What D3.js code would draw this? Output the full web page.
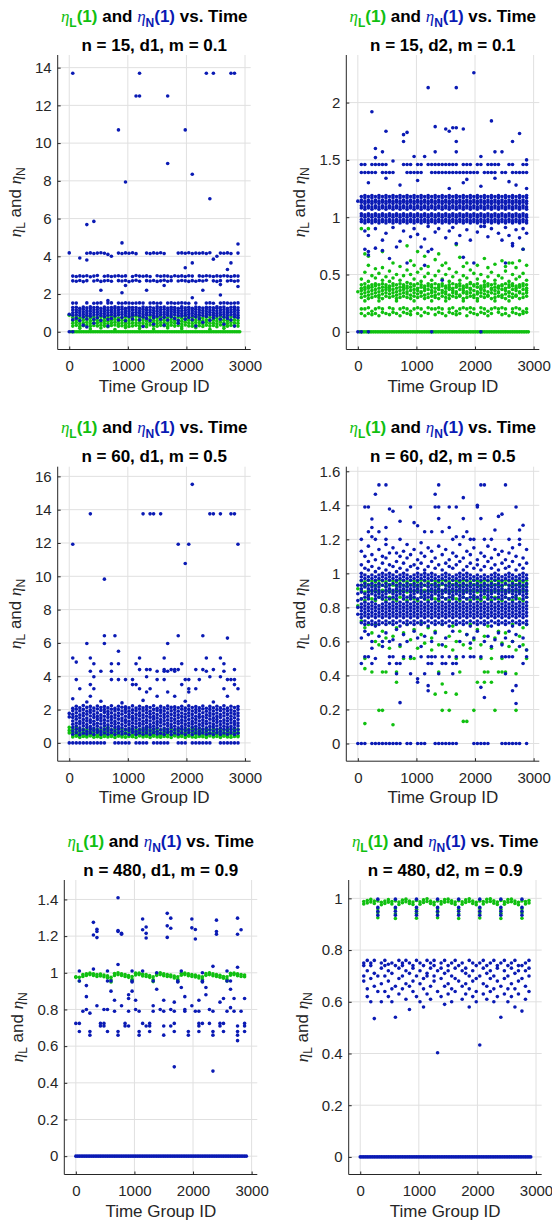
<!DOCTYPE html>
<html>
<head>
<meta charset="utf-8">
<script src="https://cdn.jsdelivr.net/npm/d3@7"></script>
<style>
  body { margin: 0; background: #fff; }
  svg { display: block; }
  text { font-family: "Liberation Sans", Arial, sans-serif; white-space: pre; }
</style>
</head>
<body>
<div class="chart"></div>
<script>
// time group columns (x) and the in-between ids used where a series sits on 0 without gaps
const timeCols = [0,60,120,180,240,300,360,420,480,540,600,660,720,780,840,900,960,1020,1080,1140,1200,1260,1320,1380,1440,1500,1560,1620,1680,1740,1800,1860,1920,1980,2040,2100,2160,2220,2280,2340,2400,2460,2520,2580,2640,2700,2760,2820,2880];
const timeMid = [30,90,150,210,270,330,390,450,510,570,630,690,750,810,870,930,990,1050,1110,1170,1230,1290,1350,1410,1470,1530,1590,1650,1710,1770,1830,1890,1950,2010,2070,2130,2190,2250,2310,2370,2430,2490,2550,2610,2670,2730,2790,2850,2910];

const xTicks = [0,1000,2000,3000];
const yTicks1 = [0,2,4,6,8,10,12,14];
const yTicks2 = [0,0.5,1,1.5,2];
const yTicks3 = [0,2,4,6,8,10,12,14,16];
const yTicks4 = [0,0.2,0.4,0.6,0.8,1,1.2,1.4,1.6];
const yTicks5 = [0,0.2,0.4,0.6,0.8,1,1.2,1.4];
const yTicks6 = [0,0.2,0.4,0.6,0.8,1];

const nVals = [15,15,60,60,480,480];
const dVals = ["d1","d2","d1","d2","d1","d2"];
const mVals = ["0.1","0.1","0.5","0.5","0.9","0.9"];

// each series: one array of eta values per time column
// n = 15, d1, m = 0.1
const p1L = [
[.88],[0,.3,.45,.6,.76],[0,.34,.49,.63,.79],[0,.28,.43,.57,.72,.18],[0,.32,.47,.62,.77],
[0,.36,.5,.65,.81],[0,.29,.44,.58,.73,.15],[0,.33,.48,.62,.78],[0,.31,.46,.6,.75],[0,.35,.5,.64,.8,.2],
[0,.3,.44,.59,.74],[0,.27,.42,.56,.71,.83],[0,.33,.47,.61,.77],[0,.36,.51,.66,.8,.12],[0,.29,.43,.58,.73],
[0,.32,.46,.61,.76],[0,.35,.49,.63,.79,.22],[0,.28,.44,.59,.74],[0,.31,.47,.62,.78],[0,.34,.48,.64,.82],
[0,.3,.45,.6,.75,.17],[0,.33,.48,.63,.77],[0,.27,.42,.57,.72],[0,.36,.5,.65,.81],[0,.31,.46,.6,.76,.14],
[0,.29,.44,.58,.73],[0,.34,.49,.64,.8],[0,.32,.47,.61,.76],[0,.28,.43,.58,.74,.2],[0,.35,.5,.65,.8],
[0,.3,.45,.59,.74],[0,.33,.48,.62,.78],[0,.27,.41,.56,.71,.16],[0,.36,.51,.66,.82],[0,.31,.46,.61,.76],
[0,.29,.44,.59,.75],[0,.34,.49,.63,.79,.21],[0,.32,.46,.6,.75],[0,.28,.43,.58,.73],[0,.35,.5,.64,.8],
[0,.3,.45,.6,.76,.13],[0,.33,.47,.62,.78],[0,.27,.42,.57,.72],[0,.36,.51,.65,.81],[0,.31,.46,.61,.77,.18],
[0,.29,.44,.59,.74],[0,.34,.49,.63,.79],[0,.32,.47,.62,.77],[0,.3,.45,.6,.75]
];
const p1N = [
[0,.93,4.18],
[0,.64,.88,1.01,1.15,1.28,1.52,2.7,2.95,13.7],
[.72,.9,1.04,1.17,1.3,1.52,2.68,2.93],
[.6,.86,.99,1.12,1.25,2.72,2.96,3.91],
[.35,.78,.92,1.06,1.19,1.31,2.66,2.94],
[.25,.68,.87,1,1.13,1.27,1.53,2.71,2.97,3.8,4.16,5.68],
[.82,.95,1.09,1.22,1.32,2.92,4.18],
[.45,.66,.89,1.02,1.16,1.29,1.51,2.69,2.95,4.15,5.85],
[.74,.91,1.05,1.18,1.3,1.52,2.73,2.98,4.17],
[.6,.86,.98,1.11,1.24,1.53,2.2,2.67,4.19],
[.8,.94,1.07,1.2,1.31,2.7,2.94,4.16],
[.3,.65,.88,1.01,1.14,1.27,1.52,1.65,2.72,2.96,4.1],
[.7,.9,1.03,1.17,1.29,1.53,2.68,2.93,4],
[.84,.97,1.1,1.23,1.32,2.95],
[.62,.89,1.02,1.15,1.28,1.52,2.71,2.97,4.17,10.7],
[.76,.92,1.05,1.19,1.31,1.51,2.07,2.69,2.94,4.71,4.15],
[.58,.86,.99,1.12,1.25,1.53,2.45,2.72,2.96,4.18,7.94],
[.81,.94,1.08,1.21,1.3,1.52,2.66,4.16],
[.68,.88,1.01,1.15,1.28,1.51,2.7,2.93,4.19],
[.9,1.03,1.17,1.29,1.52,2.73,2.98,4.14,12.5],
[.63,.85,.98,1.11,1.24,1.53,2.68,2.95,12.5,13.7],
[.28,.78,.92,1.06,1.19,1.31,1.52,2.94],
[.7,.87,1,1.14,1.27,2.2,2.71,2.96,4.17],
[.6,.9,1.04,1.17,1.3,1.52,2.69,2.93,4.15],
[.4,.74,.86,.99,1.13,1.26,1.53,2.72,4.18],
[.82,.95,1.09,1.22,1.32,1.51,2.67,2.97,4.16],
[.66,.89,1.02,1.15,1.28,1.52,2.7,2.94,4.19],
[.35,.77,.92,1.05,1.19,1.31,2.45,2.73,2.96,4.15],
[.62,.87,1,1.13,1.26,1.52,2.68,2.95,8.92,12.5],
[.8,.94,1.07,1.2,1.3,1.53,2.71,2.92],
[.7,.9,1.03,1.16,1.29,1.51,2.97],
[.45,.6,.86,.99,1.12,1.25,1.52,2.69,2.94,4.17],
[.83,.96,1.1,1.23,1.32,1.53,2.72,2.96,4.18],
[.67,.88,1.01,1.14,1.27,1.52,2.7,2.93,3.39,4.16,10.7],
[.76,.91,1.05,1.18,1.3,1.51,2.67,2.97,4.19],
[.64,.85,.98,1.12,1.25,1.8,2.71,2.95,3.65,4.15,8.35],
[.3,.79,.93,1.06,1.2,1.31,1.52,2.68,4.17],
[.69,.88,1.02,1.15,1.28,2.72,2.96,4.16],
[.5,.86,.99,1.13,1.26,2.2,2.69,2.94,4.18],
[.81,.94,1.07,1.21,1.3,1.52,2.73,2.97,4.15,13.7],
[.61,.9,1.03,1.16,1.29,1.53,2.95,4.19,7.05],
[.73,.87,1,1.14,1.27,1.51,2.7,2.93,3.85,13.7],
[.84,.97,1.1,1.24,1.32,2.67,2.96,4],
[.66,.89,1.02,1.15,1.28,1.52,1.95,2.5,2.71,2.94,4.17],
[.4,.78,.92,1.05,1.18,1.31,1.53,2.97,4.16],
[.7,.86,.99,1.12,1.25,1.52,2.69,2.95,3.3,4.18],
[.62,.9,1.04,1.17,1.3,1.51,2.72,2.93,3.65,4.15,13.7],
[.3,.8,.93,1.07,1.2,1.31,1.52,2.68,2.96,13.7],
[.74,.88,1.01,1.14,1.27,1.53,2.4,2.7,2.95,4.17,4.65]
];

// n = 15, d2, m = 0.1
const p2L = [
[.35],
[0,.3,.33,.36,.38,.41,.2,.16,.46,.9],
[0,.31,.34,.37,.39,.42,.27,.2,.14,.52,.68],
[0,.29,.32,.35,.38,.4,.21,.16,.44,.58,.9,.66],
[0,.3,.33,.36,.39,.41,.18,.15,.49],
[0,.31,.34,.37,.4,.42,.2,.16,.47,.55],
[0,.3,.32,.35,.38,.41,.27,.21,.14,.51],
[0,.29,.33,.36,.39,.42,.2,.17,.45,.56,.7],
[0,.31,.34,.37,.39,.41,.16,.48],
[0,.3,.33,.36,.38,.4,.21,.15,.53,.44],
[0,.31,.34,.37,.4,.42,.2,.17,.47,.6],
[0,.29,.32,.35,.38,.41,.27,.16,.5],
[0,.3,.33,.36,.39,.42,.2,.14,.45,.57],
[0,.31,.34,.37,.39,.41,.21,.17,.49],
[0,.3,.33,.35,.38,.4,.2,.16,.43,.54,.75],
[0,.29,.32,.36,.39,.42,.18,.15,.5,.62],
[0,.31,.34,.37,.4,.41,.27,.2,.46,.58],
[0,.3,.33,.36,.38,.42,.21,.16,.52,.7],
[0,.31,.34,.35,.39,.41,.2,.14,.44,.55],
[0,.29,.32,.36,.38,.4,.17,.48,.66],
[0,.3,.33,.37,.4,.42,.21,.16,.51,.57],
[0,.31,.34,.36,.39,.41,.27,.2,.45],
[0,.3,.32,.35,.38,.42,.2,.15,.49,.63],
[0,.29,.33,.37,.39,.41,.21,.17,.53,.68],
[0,.31,.34,.36,.4,.42,.2,.16,.46,.58],
[0,.3,.33,.35,.38,.4,.27,.14,.5,.6],
[0,.29,.32,.37,.39,.41,.2,.17,.44,.55],
[0,.31,.34,.36,.38,.42,.21,.16,.48],
[0,.3,.33,.35,.39,.41,.18,.15,.52,.76],
[0,.31,.32,.37,.4,.42,.2,.16,.45,.65],
[0,.29,.34,.36,.38,.4,.27,.21,.49,.57],
[0,.3,.33,.35,.39,.41,.2,.14,.47,.6],
[0,.31,.34,.37,.38,.42,.21,.17,.43,.54],
[0,.3,.32,.36,.4,.41,.2,.16,.51],
[0,.29,.33,.35,.39,.42,.27,.15,.46,.58],
[0,.31,.34,.37,.38,.4,.21,.17,.5],
[0,.3,.33,.36,.39,.41,.2,.16,.44,.64],
[0,.31,.32,.35,.4,.42,.18,.14,.48,.56],
[0,.29,.34,.37,.38,.41,.2,.16,.52],
[0,.3,.33,.36,.39,.42,.27,.21,.45,.59],
[0,.31,.34,.35,.38,.4,.2,.17,.49],
[0,.3,.32,.37,.4,.41,.21,.15,.47,.62],
[0,.29,.33,.36,.38,.42,.2,.16,.53,.57],
[0,.31,.34,.35,.39,.41,.27,.14,.44,.6],
[0,.3,.33,.37,.4,.42,.2,.17,.5,.6],
[0,.31,.32,.36,.38,.4,.21,.16,.46,.56],
[0,.29,.34,.35,.39,.41,.2,.15,.48,.62],
[0,.3,.33,.37,.4,.42,.18,.16,.51,.72],
[0,.31,.34,.36,.38,.41,.2,.17,.45,.58]
];
const p2N = [
[0,1.14],
[0,.96,.98,1.01,1.03,1.08,1.1,1.13,1.15,1.18,1.39,1.46],
[.72,.88,.95,.97,1,1.02,1.07,1.09,1.12,1.14,1.17,1.19,1.39,1.46],
[0,.7,.67,.84,.96,.98,1.01,1.03,1.08,1.1,1.13,1.15,1.18,1.3,1.39],
[.95,.97,1,1.02,1.07,1.09,1.12,1.14,1.17,1.19,1.39,1.46,1.92],
[.73,.9,.96,.98,1.01,1.03,1.08,1.1,1.13,1.15,1.18,1.39,1.46,1.52,1.6],
[.95,.97,1,1.02,1.07,1.09,1.12,1.14,1.17,1.19,1.46],
[.71,.8,.96,.98,1.01,1.03,1.08,1.1,1.13,1.15,1.18,1.39,1.46,1.57],
[.86,.95,.97,1,1.02,1.07,1.09,1.12,1.14,1.17,1.19,1.34,1.39,1.46,1.75],
[.64,.96,.98,1.01,1.03,1.08,1.1,1.13,1.15,1.18,1.39],
[.91,.95,.97,1,1.02,1.07,1.09,1.12,1.14,1.17,1.19,1.39,1.49],
[.74,.96,.98,1.01,1.03,1.08,1.1,1.13,1.15,1.18],
[.79,.95,.97,1,1.02,1.07,1.09,1.12,1.14,1.17,1.19,1.28],
[.88,.96,.98,1.01,1.03,1.08,1.1,1.13,1.15,1.18,1.46,1.66,1.72],
[.6,.95,.97,1,1.02,1.07,1.09,1.12,1.14,1.17,1.19,1.39,1.46,1.74],
[.83,.96,.98,1.01,1.03,1.08,1.1,1.13,1.15,1.18,1.39,1.46],
[.9,.95,.97,1,1.02,1.07,1.09,1.12,1.14,1.17,1.19,1.39,1.53],
[.85,.96,.98,1.01,1.03,1.08,1.1,1.13,1.15,1.18,1.32,1.39,1.46],
[.74,.95,.97,1,1.02,1.07,1.09,1.12,1.14,1.17,1.19,1.39,1.46],
[.58,.81,.96,.98,1.01,1.03,1.08,1.1,1.13,1.15,1.18,1.53],
[.7,.92,.95,.97,1,1.02,1.07,1.09,1.12,1.14,1.17,1.19,1.46,2.13],
[0,.72,.96,.98,1.01,1.03,1.08,1.1,1.13,1.15,1.18,1.39,1.46],
[.87,.95,.97,1,1.02,1.07,1.09,1.12,1.14,1.17,1.19,1.39,1.46,1.57,1.79],
[.9,.96,.98,1.01,1.03,1.08,1.1,1.13,1.15,1.18,1.39,1.46],
[.45,.95,.97,1,1.02,1.07,1.09,1.12,1.14,1.17,1.19,1.39,1.46],
[.82,.96,.98,1.01,1.03,1.08,1.1,1.13,1.15,1.18,1.39,1.46,1.77],
[.88,.95,.97,1,1.02,1.07,1.09,1.12,1.14,1.17,1.19,1.25,1.39,1.46,1.75],
[.91,.96,.98,1.01,1.03,1.08,1.1,1.13,1.15,1.18,1.39,1.46,1.78],
[.77,.95,.97,1,1.02,1.07,1.09,1.12,1.14,1.17,1.19,1.39,1.46,1.57,1.66,1.78,2.13],
[.84,.96,.98,1.01,1.03,1.08,1.1,1.13,1.15,1.18,1.39],
[.65,.95,.97,1,1.02,1.07,1.09,1.12,1.14,1.17,1.19,1.3,1.39,1.46,1.77],
[.89,.96,.98,1.01,1.03,1.08,1.1,1.13,1.15,1.18,1.33,1.39,1.46],
[.8,.95,.97,1,1.02,1.07,1.09,1.12,1.14,1.17,1.19,1.39,1.46],
[.6,.96,.98,1.01,1.03,1.08,1.1,1.13,1.15,1.18,1.39,2.26],
[.87,.95,.97,1,1.02,1.07,1.09,1.12,1.14,1.17,1.19,1.39,1.46],
[0,.92,.96,.98,1.01,1.03,1.08,1.1,1.13,1.15,1.18,1.27,1.46,1.53],
[.92,.95,.97,1,1.02,1.07,1.09,1.12,1.14,1.17,1.19,1.39],
[.83,.96,.98,1.01,1.03,1.08,1.1,1.13,1.15,1.18,1.39,1.46],
[.9,.95,.97,1,1.02,1.07,1.09,1.12,1.14,1.17,1.19,1.39,1.46,1.84],
[.96,.98,1.01,1.03,1.08,1.1,1.13,1.15,1.18,1.34,1.39,1.46,1.57],
[.86,.95,.97,1,1.02,1.07,1.09,1.12,1.14,1.17,1.19,1.46],
[.8,.96,.98,1.01,1.03,1.08,1.1,1.13,1.15,1.18,1.39,1.57],
[.6,.91,.95,.97,1,1.02,1.07,1.09,1.12,1.14,1.17,1.19,1.39],
[.84,.96,.98,1.01,1.03,1.08,1.1,1.13,1.15,1.18,1.31,1.46],
[.77,.75,.95,.97,1,1.02,1.07,1.09,1.12,1.14,1.17,1.19,1.39,1.46,1.66],
[.89,.96,.98,1.01,1.03,1.08,1.1,1.13,1.15,1.18,1.28,1.39],
[.82,.95,.97,1,1.02,1.07,1.09,1.12,1.14,1.17,1.19,1.39,1.73],
[.72,.9,.96,.98,1.01,1.03,1.08,1.1,1.13,1.15,1.18,1.39,1.46],
[.86,.95,.97,1,1.02,1.07,1.09,1.12,1.14,1.17,1.19,1.25,1.39,1.46,1.5]
];

// n = 60, d1, m = 0.5
const p3L = [
[.6,.75,.93],[.35,.47,.63,.8],[.4,.5,.66,.83,.95],[.33,.45,.6,.78],[.38,.49,.64,.81],
[.36,.44,.61,.79],[.41,.52,.67,.85],[.34,.46,.62,.8],[.37,.48,.65,.82],[.32,.44,.6,.77],
[.39,.51,.66,.84],[.35,.47,.63,.8,.92],[.38,.45,.61,.79],[.33,.5,.64,.82],[.4,.48,.62,.81],
[.36,.46,.65,.83],[.34,.52,.6,.78],[.39,.47,.63,.8],[.37,.45,.66,.84],[.32,.49,.61,.79],
[.41,.5,.64,.82],[.35,.44,.62,.8],[.38,.48,.65,.83,.93],[.33,.46,.6,.78],[.4,.51,.63,.81],
[.36,.47,.67,.85],[.34,.45,.61,.79],[.39,.49,.64,.82],[.37,.52,.62,.8],[.32,.46,.66,.84],
[.41,.48,.6,.77],[.35,.44,.65,.83],[.38,.5,.63,.81],[.33,.47,.61,.79],[.4,.45,.64,.82],
[.36,.49,.62,.8,.91],[.34,.51,.66,.84],[.39,.46,.6,.78],[.37,.48,.63,.81],[.32,.44,.65,.83],
[.41,.5,.61,.79],[.35,.47,.64,.82],[.38,.52,.62,.8],[.33,.45,.67,.85],[.4,.49,.6,.77],
[.36,.46,.63,.81],[.34,.5,.65,.83],[.39,.48,.61,.79],[.37,.44,.64,.82]
];
const p3N = [
[0,1.56,1.77],
[0,.52,.71,.93,1.12,1.31,1.52,1.71,1.93,2.08,2.65,5.1,11.92],
[0,.61,.82,1.01,1.19,1.42,1.6,1.81,2.02,2.2,3.8,4.85],
[0,.49,.72,.9,1.13,1.29,1.51,1.69,1.92,2.11,3.25],
[0,.58,.79,1.02,1.21,1.4,1.62,1.79,2.01,2.24],
[0,.53,.7,.92,1.1,1.32,1.49,1.72,1.9,2.13,2.45,5.97],
[0,.6,.81,.99,1.22,1.38,1.61,1.82,1.99,2.19,2.8,3.5,4.3,5.1,13.75],
[0,.51,.73,.89,1.11,1.3,1.53,1.7,1.91,2.09,3.25,3.97,4.75],
[0,.62,.78,1,1.18,1.41,1.59,1.8,2.03,2.21],
[0,.5,.69,.91,1.13,1.33,1.5,1.68,1.94,2.12,2.5,4.3],
[0,.59,.8,1.02,1.2,1.39,1.6,1.83,2,2.18,6.43,5.97,9.83],
[.52,.72,.9,1.09,1.31,1.52,1.71,1.89,2.1],
[.61,.79,1.01,1.21,1.4,1.58,1.8,2.02,2.23,3.8,4.3,4.75],
[0,.5,.71,.93,1.12,1.29,1.51,1.69,1.92,2.07,6.43],
[0,.6,.82,.98,1.19,1.42,1.61,1.79,2,2.2,3.8,4.75,5.5],
[0,.53,.7,.91,1.1,1.32,1.49,1.72,1.91,2.14,2.4],
[0,.58,.8,1.01,1.22,1.39,1.6,1.82,2.01,2.17,3.8],
[0,.5,.73,.89,1.11,1.3,1.52,1.7,1.9,2.1],
[.62,.81,1,1.2,1.41,1.59,1.81,1.99,2.22,3.5,3.8],
[0,.51,.7,.92,1.13,1.31,1.5,1.71,1.93,2.09,3.5,4.75],
[0,.59,.79,1.02,1.19,1.4,1.62,1.8,2.02,2.2,3.25,4.4,5.1],
[0,.52,.72,.9,1.12,1.3,1.51,1.69,1.92,2.11,2.55,13.75],
[0,.6,.8,.99,1.21,1.38,1.6,1.81,2,2.18,3.05,3.97,4.4],
[.5,.71,.93,1.1,1.31,1.53,1.72,1.9,2.12,3.25,4.4,13.75],
[0,.61,.82,1,1.2,1.42,1.59,1.79,2.01,2.23,13.75],
[0,.53,.7,.91,1.11,1.29,1.5,1.7,1.93,2.08,2.8,3.8,4.3],
[0,.58,.79,1.01,1.22,1.4,1.61,1.82,1.99,2.19,13.75],
[0,.51,.72,.89,1.12,1.32,1.52,1.71,1.91,2.1,3.8,4.3,4.4,5.1],
[0,.62,.81,1.02,1.19,1.39,1.6,1.8,2.03,2.21,3.05,4.3,5.97],
[.5,.7,.92,1.1,1.31,1.49,1.7,1.92,2.13,4.4],
[.59,.8,1,1.21,1.41,1.62,1.81,2,2.17,2.8,4.3,4.4],
[0,.52,.71,.9,1.13,1.3,1.51,1.69,1.9,2.11,4.4,6.43,11.92],
[0,.6,.82,.99,1.2,1.38,1.59,1.79,2.02,2.2,3.5,4.75],
[0,.51,.73,.91,1.11,1.32,1.52,1.72,1.93,2.09,2.5,3.8,10.77],
[.61,.78,1.01,1.19,1.4,1.61,1.8,2.01,2.22,3.05,3.25,3.8,11.92],
[0,.5,.71,.92,1.12,1.29,1.5,1.71,1.91,2.12,15.52],
[0,.59,.8,1,1.21,1.41,1.6,1.82,2,2.18,3.25,4.4],
[0,.53,.7,.9,1.1,1.31,1.53,1.7,1.92,2.1,3.8],
[0,.6,.81,1.02,1.2,1.39,1.58,1.81,2.03,2.21,4.4,6.43],
[0,.52,.72,.91,1.13,1.3,1.51,1.69,1.9,2.08,4.3,5.1],
[0,.58,.79,.99,1.19,1.42,1.62,1.8,2.01,2.19,3.97,13.75],
[.5,.71,.93,1.11,1.32,1.5,1.72,1.91,2.11,2.45,4.4,13.75],
[.61,.8,1.01,1.22,1.4,1.59,1.79,2,2.2],
[0,.51,.7,.9,1.1,1.3,1.52,1.7,1.93,2.1,3.97,5.1,13.75],
[0,.59,.82,1,1.2,1.38,1.61,1.81,2.02,2.23,3.25,4.3,4.75],
[0,.52,.73,.92,1.12,1.31,1.49,1.71,1.92,2.09,2.8,3.8,6.29],
[0,.6,.8,.99,1.21,1.41,1.6,1.8,1.99,2.2,3.8,13.75],
[0,.5,.71,.91,1.11,1.29,1.51,1.72,1.9,2.12,3.5,3.8,4.4,13.75],
[0,.58,.79,1.02,1.19,1.4,1.62,1.79,2.01,2.18,3.25,11.92]
];

// n = 60, d2, m = 0.5
const p4L = [
[.81,.91],[.85,.9,.93,.955,.72],[.84,.89,.925,.95,.117,.44,.5,.68],[.86,.9,.935,.96,.7],[.85,.895,.93,.955,.42,.65],
[.84,.9,.925,.95,.7,.6],[.86,.89,.935,.96,.195,.58],[.85,.9,.93,.955,.195,.42,.66],[.84,.895,.925,.95,.42,.62],[.86,.9,.935,.96,.56,.71],
[.85,.89,.93,.955,.11,.63],[.84,.9,.925,.95,.36,.42,.68],[.86,.895,.935,.96,.57],[.85,.9,.93,.955,.5,.65],[.84,.89,.925,.95,.7],
[.86,.9,.935,.96,.5,.61],[.85,.895,.93,.955,.5,.67],[.84,.9,.925,.95,.56],[.86,.89,.935,.96,.64,.71],[.85,.9,.93,.955,.59],
[.84,.895,.925,.95,.68],[.86,.9,.935,.96,.55,.62],[.85,.89,.93,.955,.29,.66],[.84,.9,.925,.95,.42,.58],[.86,.895,.935,.96,.195,.35,.7],
[.85,.9,.93,.955,.3,.57],[.84,.89,.925,.95,.195,.63],[.86,.9,.935,.96,.55,.69],[.85,.895,.93,.955,.29,.5,.6],[.84,.9,.925,.95,.42,.66],
[.86,.89,.935,.96,.13,.58],[.85,.9,.93,.955,.13,.64],[.84,.895,.925,.95,.56,.7],[.86,.9,.935,.96,.195,.61],[.85,.89,.93,.955,.36,.67],
[.84,.9,.925,.95,.5,.58],[.86,.895,.935,.96,.36,.42,.63],[.85,.9,.93,.955,.42,.69],[.84,.89,.925,.95,.36,.5,.56],[.86,.9,.935,.96,.195,.62],
[.85,.895,.93,.955,.42,.66],[.84,.9,.925,.95,.42,.5,.59],[.86,.89,.935,.96,.42,.65],[.85,.9,.93,.955,.57],[.84,.895,.925,.95,.6,.7],
[.86,.9,.935,.96,.195,.41,.55],[.85,.89,.93,.955,.63],[.84,.9,.925,.95,.58,.68],[.86,.895,.935,.96,.5,.55,.7]
];
const p4N = [
[0,.76,.8,.84,.88,.93],
[0,.71,.74,.76,.78,.8,.82,.85,.89,.91,.93,.96,.98,1,1.05,1.13,1.2,.47,.62],
[0,.7,.72,.75,.77,.79,.81,.83,.86,.88,.92,.94,.97,.99,1.03,1.1,1.39,.51,.66],
[.71,.74,.76,.78,.8,.82,.85,.87,.89,.91,.93,.96,.98,1.02,1.07,1.16,1.245,1.39,.51,.64],
[0,.7,.72,.75,.77,.79,.81,.83,.88,.9,.92,.94,.97,.99,1.04,1.11,1.215,1.27,1.32,.47,.6,.56],
[0,.69,.71,.74,.76,.78,.8,.82,.85,.87,.89,.91,.93,.96,.98,1.01,1.08,1.2,1.465,.5],
[0,.7,.72,.75,.77,.79,.81,.86,.88,.9,.92,.94,.97,.99,1.03,1.14,1.245,1.52,.63],
[0,.71,.74,.76,.78,.8,.82,.85,.87,.89,.93,.96,.98,1,1.06,1.1,.6,.57],
[0,.7,.72,.75,.77,.79,.81,.83,.86,.88,.9,.92,.94,.97,.99,1.02,1.09,1.17,1.2,1.27,1.52,.65],
[0,.71,.74,.76,.78,.8,.82,.85,.89,.91,.93,.96,.98,1,1.05,1.12,1.378,.51,.47,.6],
[0,.7,.72,.75,.77,.79,.81,.83,.86,.88,.9,.94,.97,.99,1.04,1.15,1.365,.51,.61],
[0,.71,.74,.76,.78,.8,.82,.85,.87,.89,.91,.93,.96,.98,1.01,1.07,1.12,.47,.41,.67],
[0,.69,.72,.75,.77,.79,.81,.83,.88,.9,.92,.94,.97,.99,1.03,1.1,1.2,1.306,.47,.24,.58],
[.71,.74,.76,.78,.8,.82,.85,.87,.89,.91,.93,.96,.98,1,1.06,1.13,.51,.64],
[0,.7,.72,.75,.77,.79,.81,.83,.86,.9,.92,.94,.97,.99,1.02,1.09,1.17,.6],
[0,.71,.74,.76,.78,.8,.82,.85,.87,.89,.91,.93,.96,.98,1.04,1.11,1.39,.51,.41],
[.7,.72,.75,.77,.79,.81,.83,.86,.88,.9,.92,.94,.97,.99,1.05,1.14,1.298,.66],
[0,.71,.74,.76,.78,.8,.82,.85,.89,.91,.93,.96,.98,1,1.03,1.08,1.28,.38,.36,.62],
[0,.7,.72,.75,.77,.79,.81,.83,.86,.88,.9,.92,.94,.97,.99,1.06,1.12,1.18,.51,.57],
[0,.71,.74,.76,.78,.8,.82,.85,.87,.89,.93,.96,.98,1,1.02,1.1,1.245,.41,.63],
[.69,.72,.75,.77,.79,.81,.83,.86,.88,.9,.92,.94,.97,.99,1.04,1.15,.51,.47,.34,.31],
[.71,.74,.76,.78,.8,.82,.85,.87,.89,.91,.93,.96,.98,1,1.07,1.13,1.245,.51,.47,.6],
[0,.7,.72,.75,.77,.79,.81,.83,.88,.9,.92,.94,.97,.99,1.03,1.09,1.39,1.465,.51,.65],
[0,.71,.74,.76,.78,.8,.82,.85,.87,.89,.91,.93,.96,.98,1.05,1.16,1.322,1.39,1.52,.41],
[0,.7,.72,.75,.77,.79,.81,.83,.86,.88,.9,.94,.97,.99,1.02,1.11,1.245,.51,.47,.58],
[0,.71,.74,.76,.78,.8,.82,.85,.89,.91,.93,.96,.98,1,1.06,1.14,.47,.62],
[0,.69,.72,.75,.77,.79,.81,.83,.86,.88,.9,.92,.94,.97,.99,1.04,1.08,1.27,1.39,.51],
[0,.71,.74,.76,.78,.8,.82,.85,.87,.89,.91,.93,.96,.98,1.03,1.12,1.2,.47,.41,.66],
[0,.7,.72,.75,.77,.79,.81,.83,.88,.9,.92,.94,.97,.99,1.05,1.1,1.215,1.39,.51,.47],
[.71,.74,.76,.78,.8,.82,.85,.87,.89,.91,.93,.96,.98,1,1.07,1.17,.6],
[.7,.72,.75,.77,.79,.81,.83,.86,.88,.9,.92,.94,.97,.99,1.02,1.09,1.215,1.322,1.445,.51],
[.71,.74,.76,.78,.8,.82,.85,.89,.91,.93,.96,.98,1,1.04,1.13,1.245,.64],
[.69,.72,.75,.77,.79,.81,.83,.86,.88,.9,.92,.94,.97,.99,1.06,1.11,1.2,.51,.59],
[0,.71,.74,.76,.78,.8,.82,.85,.87,.89,.91,.93,.96,.98,1.03,1.15,1.2,.51,.62],
[0,.7,.72,.75,.77,.79,.81,.83,.86,.9,.92,.94,.97,.99,1.05,1.08,1.39,1.4,.66],
[0,.71,.74,.76,.78,.8,.82,.85,.87,.89,.91,.93,.96,.98,1.02,1.12,1.322,1.52,.51,.33],
[0,.7,.72,.75,.77,.79,.81,.83,.88,.9,.92,.94,.97,.99,1.04,1.1,1.2,1.52,.27,.6],
[0,.71,.74,.76,.78,.8,.82,.85,.87,.89,.91,.93,.96,.98,1.07,1.16,.63],
[.69,.72,.75,.77,.79,.81,.83,.86,.88,.9,.92,.94,.97,.99,1.03,1.09,1.2,.57],
[.71,.74,.76,.78,.8,.82,.85,.89,.91,.93,.96,.98,1,1.05,1.14,1.255,.61],
[.7,.72,.75,.77,.79,.81,.83,.86,.88,.9,.92,.94,.97,.99,1.02,1.11,1.335,.65],
[0,.71,.74,.76,.78,.8,.82,.85,.87,.89,.91,.93,.96,.98,1.06,1.13,1.348,.51,.58],
[0,.7,.72,.75,.77,.79,.81,.83,.86,.88,.9,.94,.97,.99,1.03,1.08,1.52,.51,.41,.62],
[0,.71,.74,.76,.78,.8,.82,.85,.89,.91,.93,.96,.98,1,1.04,1.12,1.2,.51,.66],
[0,.69,.72,.75,.77,.79,.81,.83,.86,.88,.9,.92,.94,.97,.99,1.07,1.15,.51,.31,.6],
[0,.71,.74,.76,.78,.8,.82,.85,.87,.89,.91,.93,.96,.98,1.02,1.1,1.39,.34,.235,.64],
[0,.7,.72,.75,.77,.79,.81,.83,.88,.9,.92,.94,.97,.99,1.05,1.17,1.2,1.255,.57],
[.71,.74,.76,.78,.8,.82,.85,.87,.89,.91,.93,.96,.98,1,1.03,1.09,1.283,.47,.62],
[0,.7,.72,.75,.77,.79,.81,.83,.86,.88,.9,.92,.94,.97,.99,1.06,1.14,.51,.55]
];

// n = 480, d1, m = 0.9
const p5L = [
[.975,.978],[.955,.975],[.98,.99],[.985,.995],[.99,.998],[.985,.995],[.98,.99],[.983,.993],[.978,.988],[.972,.984],
[.95,.962,.975],[.985,.996],[.99,1],[.985,.995],[.98,.99],[.975,.985],[.955,.965,.98],[.988,.998],[.99,.998],[.983,.993],
[.98,.99],[.975,.985],[.952,.963,.978],[.986,.996],[.99,1],[.984,.994],[.98,.99],[.978,.988],[.972,.982],[.953,.965,.978],
[.987,.997],[.99,.998],[.984,.994],[.98,.99],[.977,.987],[.972,.982],[.953,.964,.978],[.986,.996],[.99,1],[.984,.994],
[.98,.99],[.976,.986],[.97,.98],[.955,.965,.978],[.987,.997],[.99,.998],[.984,.994],[.98,.99],[.978,.988]
];
const p5N = [
[0,.724],[0,1.01,.955,.68,.724],[0,.79],[0,.93,.87,.8],[0,.68,.66,.78],
[0,1.02,1.275,1.206],[0,1.237,1.225,1.192,.82],[0,.724,.71],[0,.724,.71,.8],[0,1.01,.955,.8,.68],
[0,.955,.9],[0,.85,.79],[0,1.045,1.409,1.225,1.23,.68,.66],[0,1.215,1.21,.82],[0,.724,.71],
[0,.88,.86,.71,.79],[0,1.01,.955,.95,.9],[0,.85,.8],[0,.79,.68,.66],[0,1.01,1.293,1.235,.724],
[0,1.25,1.215,1.19,.71],[0,.724,.71,.68],[0,.955,.79,.82],[0,1,.91],[0,.8],
[0,.85,.79,.71,.66],[0,1.324,1.256,1.193],[0,1.298,1.243,.71,.8],[0,.84,.79,.724,.68,.487],[0,.955,.95],
[0,1.01,.92],[0,.87,.79,.8],[0,.68,.66],[0,1.293,1.245,.82],[0,1.236,1.184,.79],
[0,.85,.79,.724,.71,.68],[0,1,.955,.95,.724],[0,.92,.88],[0,.724,.8],[0,1.035,.79,.68,.66,.464],
[0,1.287,1.225,1.21],[0,.84,.724,.71],[0,.86,.724,.68],[0,1.01,.955,.79],[0,.955,.91,.81],
[0,.86,.79],[0,1.03,1.298,1.21,.71,.68,.66,.63],[0,1.235,.79],[0,.86,.724,.71,.68]
];

// n = 480, d2, m = 0.9
const p6L = [
[],[.978,.988],[.982,.992],[.986,.996],[.98,.99],[.99,.96,.945,.925],[.975,.985],[.98,.99],[.985,.995],[.978,.988],
[.99,.96,.94,.922],[.976,.986],[.983,.993],[.987,.997],[.98,.99],[.976,.986],[.992,.958,.942,.923],[.977,.987],[.984,.994],[.988,.998],
[.98,.99],[.975,.985],[.99,.96,.945,.925],[.978,.988],[.985,.995],[.987,.997],[.981,.991],[.976,.986],[.991,.958,.94,.922],[.977,.987],
[.984,.994],[.988,.998],[.98,.99],[.975,.985],[.99,.96,.943,.924],[.978,.988],[.986,.996],[.988,.998],[.981,.991],[.976,.986],
[.992,.958,.942,.922],[.977,.987],[.985,.995],[.987,.997],[.98,.99],[.975,.985],[.99,.96,.944,.923],[.978,.988],[.982,.992]
];
const p6N = [
[0],[0,.7,.68,.74,.75],[0,.76,.72,.65,.62],[0,.74,.69,.6,.75],[0,.535,.71,.66,.76],
[0,.997,.965,.95,.935,.7,.64],[0,.75,.73,.67,.6],[0,.76,.74,.7,.64],[0,.72,.68,.745,.62],[0,.75,.71,.65,.6],
[0,.997,.965,.95,.935,.54,.74,.66],[0,.76,.73,.69,.63],[0,.74,.7,.75,.65],[0,.72,.67,.61,.76],[0,.75,.71,.57,.66],
[0,.74,.73,.68,.64],[0,.997,.965,.95,.935,.76,.7,.62],[0,.75,.72,.67,.6],[0,.58,.74,.69,.65],[0,.76,.71,.7,.63],
[0,.75,.73,.66,.61],[0,.74,.7,.68,.76],[0,.997,.965,.95,.935,.403,.72,.64],[0,.75,.73,.69,.62],[0,.59,.76,.71,.66],
[0,.74,.72,.67,.63],[0,.75,.7,.65,.6],[0,.76,.73,.69,.64],[0,.997,.965,.95,.935,.74,.68],[0,.75,.72,.66,.61],
[0,.73,.71,.67,.63],[0,.58,.76,.7,.65],[0,.75,.72,.68,.62],[0,.74,.69,.64,.6],[0,.997,.965,.95,.935,.433,.75,.7],
[0,.76,.73,.67,.63],[0,.74,.71,.66,.61],[0,.75,.72,.69,.64],[0,.6,.76,.7,.65],[0,.74,.73,.68,.62],
[0,.997,.965,.95,.935,.54,.75,.66],[0,.76,.72,.69,.63],[0,.74,.7,.65,.6],[0,.75,.73,.67,.62],[0,.58,.76,.71,.65],
[0,.74,.72,.68,.63],[0,.997,.965,.95,.935,.564,.74,.69],[0,.75,.72,.66,.61],[0,.76,.73,.7,.64]
];

const green = "#10c010", blue = "#0a1ab4", ink = "#262626", gridColor = "#e0e0e0";
const axW = 193, axH = 294.5;
const xDomain = [-197, 3097];
const dotR = 1.8;

const panels = [
  {L: p1L, N: p1N, solidL: true,  solidN: false, yDomain: [-0.94, 14.67],  yTicks: yTicks1, x0: 57.7,  y0: 55},
  {L: p2L, N: p2N, solidL: true,  solidN: false, yDomain: [-0.154, 2.415], yTicks: yTicks2, x0: 346.3, y0: 55},
  {L: p3L, N: p3N, solidL: false, solidN: false, yDomain: [-1.1, 16.58],   yTicks: yTicks3, x0: 57.7,  y0: 466.7},
  {L: p4L, N: p4N, solidL: false, solidN: false, yDomain: [-0.104, 1.627], yTicks: yTicks4, x0: 346.3, y0: 466.7},
  {L: p5L, N: p5N, solidL: false, solidN: true,  yDomain: [-0.1, 1.506],   yTicks: yTicks5, x0: 64.3,  y0: 880},
  {L: p6L, N: p6N, solidL: false, solidN: true,  yDomain: [-0.068, 1.071], yTicks: yTicks6, x0: 348.7, y0: 880}
];

function toPoints(cols, solidZero) {
  const pts = [];
  cols.forEach((ys, i) => ys.forEach(v => pts.push([timeCols[i], v])));
  if (solidZero) timeMid.forEach(t => pts.push([t, 0]));
  return pts;
}

const svg = d3.select(".chart").append("svg")
    .attr("width", 552)
    .attr("height", 1220);

function etaLabel(t, sub, color, subSize, shift) {
  t.append("tspan").attr("fill", color).attr("font-family", "Liberation Serif, serif")
    .attr("font-style", "italic").attr("font-weight", "normal").text("\u03b7");
  t.append("tspan").attr("fill", color).attr("font-size", subSize).attr("dy", shift).text(sub);
}

panels.forEach((p, k) => {
  const x = d3.scaleLinear().domain(xDomain).range([p.x0, p.x0 + axW]);
  const y = d3.scaleLinear().domain(p.yDomain).range([p.y0 + axH, p.y0]);
  const g = svg.append("g");

  // grid
  g.append("g").selectAll("line").data(xTicks).join("line")
      .attr("x1", d => x(d)).attr("x2", d => x(d))
      .attr("y1", p.y0).attr("y2", p.y0 + axH)
      .attr("stroke", gridColor);
  g.append("g").selectAll("line").data(p.yTicks).join("line")
      .attr("x1", p.x0).attr("x2", p.x0 + axW)
      .attr("y1", d => y(d)).attr("y2", d => y(d))
      .attr("stroke", gridColor);

  // eta_L first, eta_N on top
  g.append("g").attr("fill", green)
    .selectAll("circle").data(toPoints(p.L, p.solidL)).join("circle")
      .attr("cx", d => x(d[0])).attr("cy", d => y(d[1])).attr("r", dotR);
  g.append("g").attr("fill", blue)
    .selectAll("circle").data(toPoints(p.N, p.solidN)).join("circle")
      .attr("cx", d => x(d[0])).attr("cy", d => y(d[1])).attr("r", dotR);

  // axes
  const yAxis = g.append("g")
      .attr("transform", `translate(${p.x0},0)`)
      .call(d3.axisLeft(y).tickValues(p.yTicks).tickFormat(d3.format("~g"))
        .tickSizeInner(-3).tickSizeOuter(0).tickPadding(6));
  const xAxis = g.append("g")
      .attr("transform", `translate(0,${p.y0 + axH})`)
      .call(d3.axisBottom(x).tickValues(xTicks).tickFormat(d3.format("d"))
        .tickSizeInner(-3).tickSizeOuter(0).tickPadding(11));
  [yAxis, xAxis].forEach(a => {
    a.attr("font-size", 15).attr("font-family", null);
    a.select(".domain").attr("stroke", ink);
    a.selectAll(".tick line").attr("stroke", ink);
    a.selectAll(".tick text").attr("fill", ink);
  });
  yAxis.select(".domain").attr("d", `M0,${p.y0 + axH}V${p.y0}`);
  xAxis.select(".domain").attr("d", `M${p.x0},0H${p.x0 + axW}`);

  let tickW = 0;
  yAxis.selectAll(".tick text").each(function() { tickW = Math.max(tickW, this.getComputedTextLength()); });

  // x label
  g.append("text")
      .attr("x", p.x0 + axW / 2).attr("y", p.y0 + axH + 42.2)
      .attr("text-anchor", "middle").attr("font-size", 17).attr("fill", ink)
      .text("Time Group ID");

  // y label
  const yl = g.append("text")
      .attr("transform", `translate(${p.x0 - tickW - 20},${p.y0 + axH / 2}) rotate(-90)`)
      .attr("text-anchor", "middle").attr("font-size", 17).attr("fill", ink);
  etaLabel(yl, "L", ink, 12, 4);
  yl.append("tspan").attr("dy", -4).text(" and ");
  etaLabel(yl, "N", ink, 12, 4);

  // titles
  const cx = p.x0 + axW / 2;
  const t1 = g.append("text")
      .attr("x", cx).attr("y", p.y0 - 33.3)
      .attr("text-anchor", "middle").attr("font-size", 17).attr("font-weight", "bold");
  etaLabel(t1, "L", green, 12, 5);
  t1.append("tspan").attr("fill", green).attr("dy", -5).text("(1)");
  t1.append("tspan").attr("fill", "#000").text(" and ");
  etaLabel(t1, "N", blue, 12, 5);
  t1.append("tspan").attr("fill", blue).attr("dy", -5).text("(1)");
  t1.append("tspan").attr("fill", "#000").text(" vs. Time");

  g.append("text")
      .attr("x", cx).attr("y", p.y0 - 4.3)
      .attr("text-anchor", "middle").attr("font-size", 17).attr("font-weight", "bold")
      .attr("fill", "#000")
      .text(`n = ${nVals[k]}, ${dVals[k]}, m = ${mVals[k]}`);
});
</script>
</body>
</html>
